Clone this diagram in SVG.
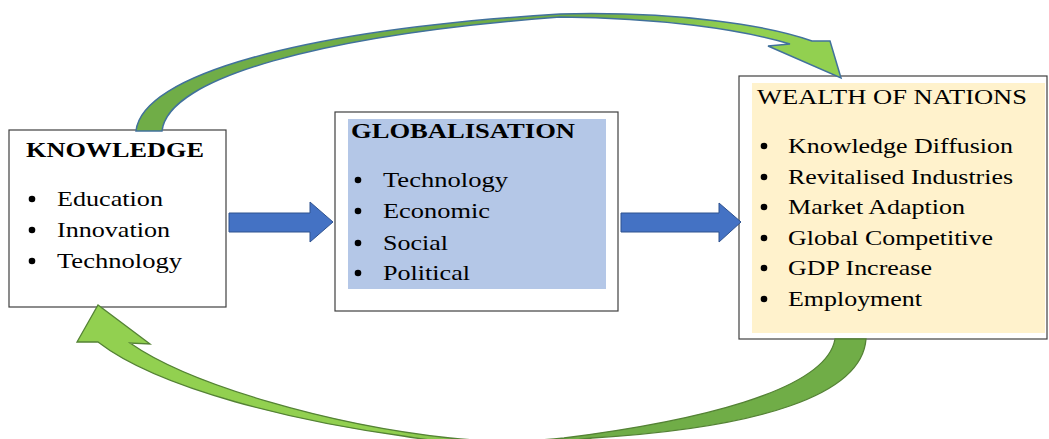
<svg xmlns="http://www.w3.org/2000/svg" width="1049" height="439" viewBox="0 0 1049 439">
  <defs>
    <style>
      .box { fill: #ffffff; stroke: #404040; stroke-width: 1.2; }
      .t { font-family: "Liberation Serif", "Times New Roman", serif; font-size: 21px; fill: #000000; }
      .h { font-family: "Liberation Serif", "Times New Roman", serif; font-size: 22px; fill: #000000; }
      .b { font-weight: bold; }
      .dot { fill: #000000; }
      .flow { fill: #4472C4; stroke: #2F528F; stroke-width: 1; }
    </style>
    <linearGradient id="gTop" x1="0" y1="0" x2="1" y2="0">
      <stop offset="0" stop-color="#70AD47"/>
      <stop offset="0.65" stop-color="#70AD47"/>
      <stop offset="0.85" stop-color="#92D050"/>
      <stop offset="1" stop-color="#92D050"/>
    </linearGradient>
    <linearGradient id="gBottom" x1="0" y1="0" x2="1" y2="0">
      <stop offset="0" stop-color="#92D050"/>
      <stop offset="0.4" stop-color="#92D050"/>
      <stop offset="0.6" stop-color="#70AD47"/>
      <stop offset="1" stop-color="#70AD47"/>
    </linearGradient>
  </defs>

  <!-- KNOWLEDGE -->
  <g id="knowledge">
    <rect class="box" x="9" y="130" width="217" height="177"/>
    <text class="h b" x="26" y="157" textLength="178" lengthAdjust="spacingAndGlyphs">KNOWLEDGE</text>
    <circle class="dot" cx="32" cy="199" r="3.3"/>
    <text class="t" x="57" y="206" textLength="106" lengthAdjust="spacingAndGlyphs">Education</text>
    <circle class="dot" cx="32" cy="230" r="3.3"/>
    <text class="t" x="57" y="237" textLength="113" lengthAdjust="spacingAndGlyphs">Innovation</text>
    <circle class="dot" cx="32" cy="261" r="3.3"/>
    <text class="t" x="57" y="268" textLength="125" lengthAdjust="spacingAndGlyphs">Technology</text>
  </g>

  <!-- GLOBALISATION -->
  <g id="globalisation">
    <rect class="box" x="335" y="112" width="283" height="199"/>
    <rect x="348" y="119" width="258" height="170" fill="#B4C7E7"/>
    <text class="h b" x="351" y="138" textLength="224" lengthAdjust="spacingAndGlyphs">GLOBALISATION</text>
    <circle class="dot" cx="358" cy="180" r="3.3"/>
    <text class="t" x="383" y="187" textLength="125" lengthAdjust="spacingAndGlyphs">Technology</text>
    <circle class="dot" cx="358" cy="211" r="3.3"/>
    <text class="t" x="383" y="218" textLength="107" lengthAdjust="spacingAndGlyphs">Economic</text>
    <circle class="dot" cx="358" cy="243" r="3.3"/>
    <text class="t" x="383" y="250" textLength="65" lengthAdjust="spacingAndGlyphs">Social</text>
    <circle class="dot" cx="358" cy="273" r="3.3"/>
    <text class="t" x="383" y="280" textLength="87" lengthAdjust="spacingAndGlyphs">Political</text>
  </g>

  <!-- WEALTH OF NATIONS -->
  <g id="wealth">
    <rect class="box" x="739" y="76" width="308" height="263"/>
    <rect x="752" y="83" width="293" height="250" fill="#FFF2CC"/>
    <text class="h" x="757" y="104" textLength="270" lengthAdjust="spacingAndGlyphs">WEALTH OF NATIONS</text>
    <circle class="dot" cx="764" cy="146" r="3.3"/>
    <text class="t" x="788" y="153" textLength="225" lengthAdjust="spacingAndGlyphs">Knowledge Diffusion</text>
    <circle class="dot" cx="764" cy="177" r="3.3"/>
    <text class="t" x="788" y="184" textLength="225" lengthAdjust="spacingAndGlyphs">Revitalised Industries</text>
    <circle class="dot" cx="764" cy="207" r="3.3"/>
    <text class="t" x="788" y="214" textLength="177" lengthAdjust="spacingAndGlyphs">Market Adaption</text>
    <circle class="dot" cx="764" cy="238" r="3.3"/>
    <text class="t" x="788" y="245" textLength="205" lengthAdjust="spacingAndGlyphs">Global Competitive</text>
    <circle class="dot" cx="764" cy="268" r="3.3"/>
    <text class="t" x="788" y="275" textLength="144" lengthAdjust="spacingAndGlyphs">GDP Increase</text>
    <circle class="dot" cx="764" cy="299" r="3.3"/>
    <text class="t" x="788" y="306" textLength="134" lengthAdjust="spacingAndGlyphs">Employment</text>
  </g>

  <!-- connectors -->
  <g id="connectors">
    <!-- block arrows between the boxes -->
    <path class="flow" d="M229,213 H310 V202 L333,222 L310,242 V232 H229 Z"/>
    <path class="flow" d="M621,213 H719 V203 L741,222 L719,242 V232 H621 Z"/>
    <!-- curved arrow: knowledge up and over to wealth of nations -->
    <path fill="url(#gTop)" stroke="#41719C" stroke-width="1.5" stroke-linejoin="miter"
          d="M136,131 C142,75 300,30 560,14 C680,11 770,26 812,41 L830,41 L841,78 L768,46 L790,44 C740,29 660,18 560,17 C320,35 168,78 162,131 Z"/>
    <!-- curved arrow: wealth of nations down and back to knowledge (dips below the lower edge) -->
    <path fill="url(#gBottom)" stroke="#548235" stroke-width="1.3" stroke-linejoin="miter"
          d="M866,339 C862,395 760,428 592,438 C530,446 460,446 403,436 C300,422 160,390 98,342 L77,342 L98,305 L150,344 L130,343 C190,385 330,425 450,438 C490,442 525,442 564,438 C690,422 826,392 835,339 Z"/>
  </g>
</svg>
